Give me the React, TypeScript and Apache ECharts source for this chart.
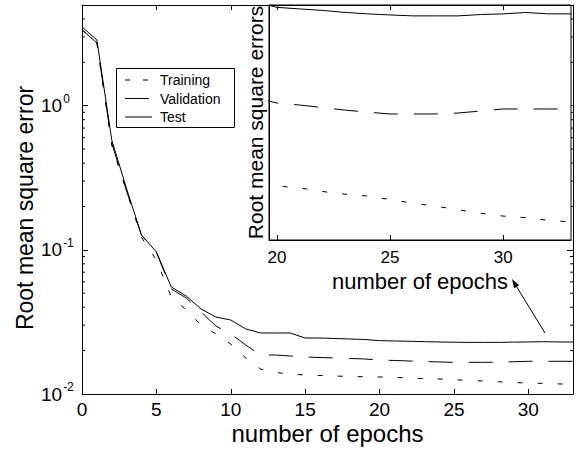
import React, { useEffect, useRef } from 'react';
import * as echarts from 'echarts';

const epochs = [0, 1, 2, 3, 4, 5, 6, 7, 8, 9, 10, 11, 12, 13, 14, 15, 16, 17, 18, 19, 20, 21, 22, 23, 24, 25, 26, 27, 28, 29, 30, 31, 32, 33];

const training = [3.36, 2.75, 0.53, 0.255, 0.122, 0.0851, 0.0471, 0.0383, 0.0301, 0.0261, 0.0222, 0.01778, 0.01491, 0.0141, 0.01376, 0.01354, 0.01344, 0.01333, 0.01322, 0.01318, 0.01313, 0.01305, 0.0129, 0.01279, 0.01271, 0.01257, 0.01242, 0.0123, 0.01216, 0.01202, 0.01191, 0.01185, 0.01175, 0.01168];

const validation = [3.36, 2.73, 0.55, 0.255, 0.126, 0.096, 0.0536, 0.0464, 0.0371, 0.0296, 0.0261, 0.0219, 0.01865, 0.01865, 0.01835, 0.01806, 0.01792, 0.01778, 0.01764, 0.0175, 0.01719, 0.01708, 0.01694, 0.0168, 0.01669, 0.01659, 0.01659, 0.01659, 0.01664, 0.01675, 0.01686, 0.01686, 0.01686, 0.01686];

const test = [3.52, 2.86, 0.579, 0.2647, 0.1269, 0.0967, 0.0553, 0.0479, 0.0389, 0.0342, 0.0326, 0.0283, 0.0265, 0.0265, 0.0265, 0.02446, 0.02446, 0.02427, 0.02408, 0.02389, 0.02345, 0.02333, 0.02322, 0.02307, 0.02296, 0.02288, 0.02281, 0.02281, 0.02281, 0.02291, 0.02296, 0.02306, 0.02296, 0.02296];

const seriesNames = ['Training', 'Validation', 'Test'];
const mainXTicks = [0, 5, 10, 15, 20, 25, 30];
const insetXTicks = [20, 25, 30];
const minorTickValues = [0.02, 0.03, 0.04, 0.05, 0.06, 0.07, 0.08, 0.09, 0.2, 0.3, 0.4, 0.5, 0.6, 0.7, 0.8, 0.9, 2, 3, 4];

const FONT = '"Liberation Sans", Arial, Helvetica, sans-serif';
const BLACK = '#000';

const trainingDash = [5, 15];
const validationDash = [24, 16];
const legendDashes: any[] = [[5, 13], validationDash, null];

function pairs(vals: number[]) {
  return epochs.map((e, i) => [e, vals[i]]);
}

function decadeLabel(v: number) {
  const l = Math.log10(v);
  const e = Math.round(l);
  if (Math.abs(l - e) > 1e-6) return '';
  return '{b|10}{s|' + e + '}';
}

export default function App() {
  const ref = useRef<HTMLDivElement>(null);
  useEffect(() => {
    const chart = echarts.init(ref.current as HTMLDivElement, null, { renderer: 'svg' });
    const lineSeries = (name: string, vals: number[], type: any, xi: number, yi: number, z: number) => ({
      type: 'line',
      name,
      data: pairs(vals),
      xAxisIndex: xi,
      yAxisIndex: yi,
      symbol: 'none',
      showSymbol: false,
      z,
      clip: true,
      itemStyle: { color: BLACK },
      lineStyle: { color: BLACK, width: 1, type },
      emphasis: { disabled: true },
    });

    // legend drawn as graphic (box, samples, names)
    const legendGraphic: any[] = [
      { type: 'rect', z: 30, shape: { x: 116.5, y: 68.5, width: 118, height: 59 }, style: { fill: '#fff', stroke: BLACK, lineWidth: 1 } },
    ];
    seriesNames.forEach((name, i) => {
      const y = 80 + i * 18.5;
      legendGraphic.push({
        type: 'line', z: 31,
        shape: { x1: 125, y1: y, x2: 152, y2: y },
        style: { stroke: BLACK, lineWidth: 1, lineDash: legendDashes[i] || undefined },
      });
      legendGraphic.push({
        type: 'text', z: 31, x: 160, y,
        style: { text: name, font: '14px ' + FONT, fill: BLACK, textAlign: 'left', textVerticalAlign: 'middle' },
      });
    });

    const option: any = {
      animation: false,
      backgroundColor: '#fff',
      textStyle: { fontFamily: FONT, color: BLACK },
      grid: [
        { left: 82, top: 5, right: 7, bottom: 59, containLabel: false },
        {
          left: 269, top: 5, right: 9, bottom: 213, containLabel: false,
          show: true, backgroundColor: '#fff', borderColor: BLACK, borderWidth: 1, z: 10,
        },
      ],
      xAxis: [
        {
          type: 'value', gridIndex: 0, min: 0, max: 33, position: 'bottom',
          axisLine: { show: true, onZero: false, lineStyle: { color: BLACK, width: 1 } },
          axisTick: { show: true, inside: true, length: 5, customValues: mainXTicks, lineStyle: { color: BLACK } },
          axisLabel: { show: true, customValues: mainXTicks, fontSize: 19, lineHeight: 19, color: BLACK, fontFamily: FONT, margin: 6 },
          splitLine: { show: false },
          name: 'number of epochs', nameLocation: 'middle', nameGap: 27, nameMoveOverlap: false,
          nameTextStyle: { fontSize: 24, lineHeight: 24, color: BLACK, fontFamily: FONT },
        },
        {
          type: 'value', gridIndex: 0, min: 0, max: 33, position: 'top',
          axisLine: { show: true, onZero: false, lineStyle: { color: BLACK, width: 1 } },
          axisTick: { show: true, inside: true, length: 5, customValues: mainXTicks, lineStyle: { color: BLACK } },
          axisLabel: { show: false },
          splitLine: { show: false },
        },
        {
          type: 'value', gridIndex: 1, min: 19.65, max: 33, position: 'bottom', z: 12,
          axisLine: { show: true, onZero: false, lineStyle: { color: BLACK, width: 1 } },
          axisTick: { show: true, inside: true, length: 5, customValues: insetXTicks, lineStyle: { color: BLACK } },
          axisLabel: { show: true, customValues: insetXTicks, fontSize: 17, color: BLACK, fontFamily: FONT, margin: 9 },
          splitLine: { show: false },
          name: 'number of epochs', nameLocation: 'middle', nameGap: 29,
          nameTextStyle: { fontSize: 22, color: BLACK, fontFamily: FONT },
        },
        {
          type: 'value', gridIndex: 1, min: 19.65, max: 33, position: 'top', z: 12,
          axisLine: { show: true, onZero: false, lineStyle: { color: BLACK, width: 1 } },
          axisTick: { show: true, inside: true, length: 5, customValues: insetXTicks, lineStyle: { color: BLACK } },
          axisLabel: { show: false },
          splitLine: { show: false },
        },
      ],
      yAxis: [
        {
          type: 'log', logBase: 10, gridIndex: 0, min: 0.01, max: 5, position: 'left',
          axisLine: { show: true, onZero: false, lineStyle: { color: BLACK, width: 1 } },
          axisTick: { show: true, inside: true, length: 6, lineStyle: { color: BLACK } },
          axisLabel: {
            show: true, align: 'left', margin: 41, color: BLACK, fontFamily: FONT,
            formatter: (v: number) => decadeLabel(v),
            rich: {
              b: { fontSize: 19, lineHeight: 26, color: BLACK, fontFamily: FONT },
              s: { fontSize: 12, lineHeight: 12, verticalAlign: 'top', color: BLACK, fontFamily: FONT, padding: [0, 0, 0, 1] },
            },
          },
          splitLine: { show: false },
        },
        {
          type: 'log', logBase: 10, gridIndex: 0, min: 0.01, max: 5, position: 'right',
          axisLine: { show: true, onZero: false, lineStyle: { color: BLACK, width: 1 } },
          axisTick: { show: true, inside: true, length: 6, lineStyle: { color: BLACK } },
          axisLabel: { show: false },
          splitLine: { show: false },
        },
        {
          type: 'log', logBase: 10, gridIndex: 1, min: 0.01102, max: 0.02363, position: 'left', z: 12,
          axisLine: { show: true, onZero: false, lineStyle: { color: BLACK, width: 1 } },
          axisTick: { show: false },
          axisLabel: { show: false },
          splitLine: { show: false },
          name: 'Root mean square errors', nameLocation: 'middle', nameGap: 3,
          nameTextStyle: { fontSize: 21, color: BLACK, fontFamily: FONT },
        },
      ],
      series: [
        lineSeries('Training', training, trainingDash, 0, 0, 2),
        lineSeries('Validation', validation, validationDash, 0, 0, 2),
        lineSeries('Test', test, 'solid', 0, 0, 2),
        {
          type: 'custom',
          name: 'minorTicks',
          xAxisIndex: 0,
          yAxisIndex: 0,
          silent: true,
          z: 2,
          data: minorTickValues.map((v) => [0, v]),
          renderItem: (params: any, api: any) => {
            const p = api.coord([0, api.value(1)]);
            const cs = params.coordSys;
            return {
              type: 'group',
              children: [
                { type: 'line', shape: { x1: cs.x, y1: p[1], x2: cs.x + 3, y2: p[1] }, style: { stroke: BLACK, lineWidth: 1 } },
                { type: 'line', shape: { x1: cs.x + cs.width - 3, y1: p[1], x2: cs.x + cs.width, y2: p[1] }, style: { stroke: BLACK, lineWidth: 1 } },
              ],
            };
          },
        },
        lineSeries('Training', training, trainingDash, 2, 2, 12),
        lineSeries('Validation', validation, validationDash, 2, 2, 12),
        lineSeries('Test', test, 'solid', 2, 2, 12),
      ],
      graphic: [
        {
          type: 'text', z: 20, x: 25, y: 208, rotation: Math.PI / 2,
          style: { text: 'Root mean square error', font: '23px ' + FONT, fill: BLACK, textAlign: 'center', textVerticalAlign: 'middle' },
        },
        { type: 'line', z: 20, shape: { x1: 545, y1: 333, x2: 515, y2: 284 }, style: { stroke: BLACK, lineWidth: 1 } },
        { type: 'polygon', z: 20, shape: { points: [[512, 279], [519.2, 285.2], [514.1, 288.3]] }, style: { fill: BLACK } },
        ...legendGraphic,
      ],
    };
    chart.setOption(option);
    return () => chart.dispose();
  }, []);
  return (
    <div
      ref={ref}
      style={{ position: 'fixed', left: 0, top: 0, width: 580, height: 453, background: '#fff' }}
    />
  );
}
